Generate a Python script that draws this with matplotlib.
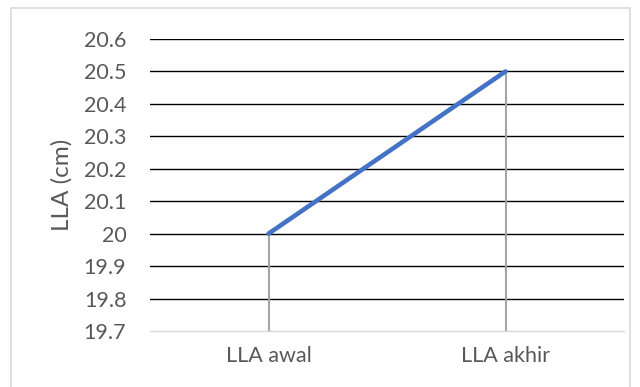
import matplotlib.pyplot as plt
from matplotlib.patches import Rectangle

categories = ["LLA awal", "LLA akhir"]
values = [20.0, 20.5]
y_ticks = [19.7, 19.8, 19.9, 20.0, 20.1, 20.2, 20.3, 20.4, 20.5, 20.6]
y_tick_labels = ["19.7", "19.8", "19.9", "20", "20.1", "20.2", "20.3", "20.4", "20.5", "20.6"]

plt.rcParams['font.family'] = ['Lato', 'DejaVu Sans']
text_col = '#595959'

fig = plt.figure(figsize=(6.4, 3.87), dpi=100)
ax = fig.add_axes([150 / 640, 1 - 331 / 387, 474 / 640, (331 - 39) / 387])

x = list(range(len(categories)))

# gridlines
for t in y_ticks[1:]:
    ax.axhline(t, color='#000000', lw=1.0, zorder=1)

# drop lines from points down to the axis
ax.vlines(x, y_ticks[0], values, color='#A5A5A5', lw=1.5, zorder=2)

ax.plot(x, values, color='#4472C4', lw=3.3, solid_capstyle='round', zorder=3)

ax.set_xlim(-0.5, len(categories) - 0.5)
ax.set_ylim(y_ticks[0], y_ticks[-1])
ax.set_yticks(y_ticks)
ax.set_yticklabels(y_tick_labels)
ax.set_xticks(x)
ax.set_xticklabels(categories)
ax.tick_params(axis='both', length=0, labelsize=15.5, colors=text_col)
ax.tick_params(axis='y', pad=17)
ax.tick_params(axis='x', pad=11)
for s in ['top', 'right', 'left']:
    ax.spines[s].set_visible(False)
ax.spines['bottom'].set_color('#D9D9D9')
ax.spines['bottom'].set_linewidth(1.0)

ax.set_ylabel("LLA (cm)", fontsize=17.5, color=text_col, labelpad=8)

# chart border
fig.patches.append(Rectangle((11 / 640, -0.1), 619 / 640, 1 - 8 / 387 + 0.1,
                             transform=fig.transFigure, fill=False,
                             edgecolor='#D9D9D9', lw=1.2))

fig.savefig("out.png", dpi=100)
